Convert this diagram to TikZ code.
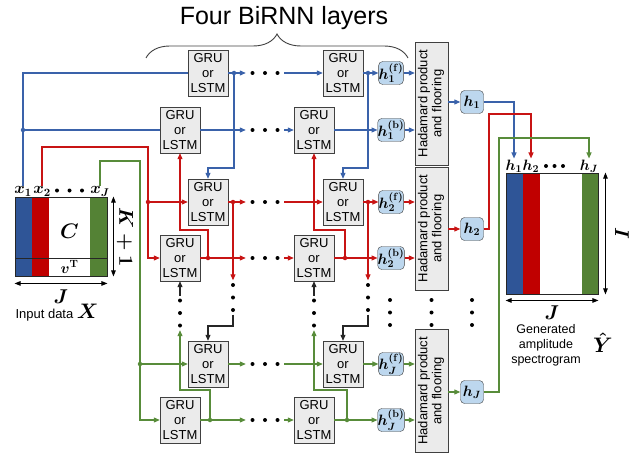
\RequirePackage{fix-cm}
\documentclass[tikz,border=0pt]{standalone}
\usepackage{amsmath}
\usepackage[no-math]{fontspec}
\setmainfont{Liberation Sans}
\usetikzlibrary{arrows.meta,decorations.pathreplacing}

\definecolor{matblue}{RGB}{47,85,151}
\definecolor{matred}{RGB}{192,0,0}
\definecolor{matgreen}{RGB}{84,130,53}
\definecolor{lineblue}{RGB}{58,98,170}
\definecolor{linered}{RGB}{200,20,20}
\definecolor{linegreen}{RGB}{88,140,58}
\definecolor{cellgray}{RGB}{235,235,235}
\definecolor{statefill}{RGB}{189,215,238}

\begin{document}
\begin{tikzpicture}
%BiRNN amplitude generator
	[
	 x=1pt,y=-1pt,
	 %Styles
	 gru/.style={rectangle,draw=black!75,fill=cellgray,minimum width=40pt,minimum height=46pt,inner sep=0pt,align=center,font=\fontsize{13}{15}\selectfont},
	 hstate/.style={rectangle,rounded corners=4pt,draw=black!75,fill=statefill,minimum width=23pt,minimum height=23pt,inner sep=0pt,font=\fontsize{15}{17}\selectfont},
	 hadamard/.style={rectangle,draw=black!75,fill=cellgray,minimum width=33pt,minimum height=123pt,inner sep=0pt,font=\fontsize{13}{14}\selectfont},
	 junc/.style={circle,inner sep=0pt,minimum size=4.5pt,fill=#1},
	 rowdots/.style={minimum width=38pt,minimum height=6pt,inner sep=0pt,
	   path picture={\fill[black] (path picture bounding box.center) ++(-#1,0) circle (2pt) ++(#1,0) circle (2pt) ++(#1,0) circle (2pt);}},
	 rowdots/.default=12.5pt,
	 coldots/.style={minimum width=6pt,minimum height=34pt,inner sep=0pt,
	   path picture={\fill[black] (path picture bounding box.center) ++(0,-#1) circle (2pt) ++(0,#1) circle (2pt) ++(0,#1) circle (2pt);}},
	 coldots/.default=12.5pt,
	 wire/.style={line width=1.1pt},
	 arr/.style={-{Triangle[length=6pt,width=5pt]}},
	 bluew/.style={wire,draw=lineblue},
	 redw/.style={wire,draw=linered},
	 greenw/.style={wire,draw=linegreen},
	 blackw/.style={wire,draw=black!85},
	 mlabel/.style={inner sep=1pt},
	 dimarr/.style={{Triangle[length=6pt,width=4.5pt]}-{Triangle[length=6pt,width=4.5pt]},line width=0.9pt},
	 matbox/.style={rectangle,draw=black!85,line width=0.9pt,inner sep=0pt}
	]
	\useasboundingbox (0,0) rectangle (636,457);

	%Title
	\node (title) at (284,18) {\fontsize{25}{30}\selectfont Four BiRNN layers};
	\draw[decorate,decoration={brace,amplitude=24pt},black!75,line width=0.9pt] (146,58) -- (408,58);

	%Input data
	\fill[matblue] (15,197) rectangle (32,276);
	\fill[matred] (32,197) rectangle (49,276);
	\fill[matgreen] (90,197) rectangle (107,276);
	\node (inmat) [matbox,minimum width=92pt,minimum height=79pt] at (61,236.5) {};
	\draw[black!85,line width=0.9pt] (15,258) -- (107,258);
	\node (cmat) at (69.5,231) {\fontsize{21}{24}\selectfont$\boldsymbol{C}$};
	\node (vrow) at (69.5,267) {\fontsize{15}{18}\selectfont$\boldsymbol{v^{\mathrm{T}}}$};
	\node (x1) [mlabel] at (23,191.5) {\fontsize{16}{18}\selectfont$\boldsymbol{x_1}$};
	\node (x2) [mlabel] at (42,191.5) {\fontsize{16}{18}\selectfont$\boldsymbol{x_2}$};
	\node (xdots) [rowdots,minimum width=30pt] at (69.5,190.5) {};
	\node (xJ) [mlabel] at (100,191.5) {\fontsize{16}{18}\selectfont$\boldsymbol{x_J}$};
	\draw[dimarr] ([xshift=6pt]inmat.north east) -- ([xshift=6pt]inmat.south east);
	\node (kdim) [rotate=-90] at (125,237) {\fontsize{20}{24}\selectfont$\boldsymbol{K+1}$};
	\draw[dimarr] ([yshift=-7pt]inmat.south west) -- ([yshift=-7pt]inmat.south east);
	\node (jin) at (61,297) {\fontsize{20}{24}\selectfont$\boldsymbol{J}$};
	\node (indata) at (57,313) {\fontsize{13}{15}\selectfont Input data \fontsize{21}{24}\selectfont$\boldsymbol{X}$};

	%RNN cells
	\node (gru1fa) [gru] at (208,73) {GRU\\or\\LSTM};
	\node (gru1fb) [gru] at (343,73) {GRU\\or\\LSTM};
	\node (gru1ba) [gru] at (180,130) {GRU\\or\\LSTM};
	\node (gru1bb) [gru] at (314,130) {GRU\\or\\LSTM};
	\node (gru2fa) [gru] at (208,202) {GRU\\or\\LSTM};
	\node (gru2fb) [gru] at (343,202) {GRU\\or\\LSTM};
	\node (gru2ba) [gru] at (180,258) {GRU\\or\\LSTM};
	\node (gru2bb) [gru] at (314,258) {GRU\\or\\LSTM};
	\node (gruJfa) [gru] at (208,364) {GRU\\or\\LSTM};
	\node (gruJfb) [gru] at (343,364) {GRU\\or\\LSTM};
	\node (gruJba) [gru] at (180,420) {GRU\\or\\LSTM};
	\node (gruJbb) [gru] at (314,420) {GRU\\or\\LSTM};

	%Ellipses between cells
	\node (el1f) [rowdots] at (265,73) {};
	\node (el1b) [rowdots] at (265,130) {};
	\node (el2f) [rowdots] at (265,202) {};
	\node (el2b) [rowdots] at (265,258) {};
	\node (elJf) [rowdots] at (265,364) {};
	\node (elJb) [rowdots] at (265,420) {};
	\node (vd1a) [coldots] at (233,297.5) {};
	\node (vd1b) [coldots] at (368,297.5) {};
	\node (vd2a) [coldots] at (180,313) {};
	\node (vd2b) [coldots] at (314,313) {};
	\node (sdots) [coldots] at (390,312.5) {};
	\node (hdots) [coldots] at (431.5,312.5) {};
	\node (odots) [coldots] at (472,312.5) {};

	%Hidden states
	\node (h1f) [hstate] at (391,73) {$\boldsymbol{h^{(\mathrm{f})}_1}$};
	\node (h1b) [hstate] at (391,130) {$\boldsymbol{h^{(\mathrm{b})}_1}$};
	\node (h2f) [hstate] at (391,202) {$\boldsymbol{h^{(\mathrm{f})}_2}$};
	\node (h2b) [hstate] at (391,258) {$\boldsymbol{h^{(\mathrm{b})}_2}$};
	\node (hJf) [hstate] at (391,364) {$\boldsymbol{h^{(\mathrm{f})}_J}$};
	\node (hJb) [hstate] at (391,420) {$\boldsymbol{h^{(\mathrm{b})}_J}$};

	%Hadamard product and flooring
	\node (hd1) [hadamard] at (431.5,103.5) {\rotatebox{90}{\begin{tabular}{@{}c@{}}Hadamard product\\and flooring\end{tabular}}};
	\node (hd2) [hadamard] at (431.5,228.5) {\rotatebox{90}{\begin{tabular}{@{}c@{}}Hadamard product\\and flooring\end{tabular}}};
	\node (hd3) [hadamard] at (431.5,391) {\rotatebox{90}{\begin{tabular}{@{}c@{}}Hadamard product\\and flooring\end{tabular}}};
	\node (ho1) [hstate] at (472,102) {$\boldsymbol{h_1}$};
	\node (ho2) [hstate] at (472,229) {$\boldsymbol{h_2}$};
	\node (hoJ) [hstate] at (472,392) {$\boldsymbol{h_J}$};

	%Output spectrogram
	\fill[matblue] (506,173) rectangle (523,294);
	\fill[matred] (523,173) rectangle (540,294);
	\fill[matgreen] (582,173) rectangle (598,294);
	\node (outmat) [matbox,minimum width=92pt,minimum height=121pt] at (552,233.5) {};
	\node (hl1) [mlabel] at (514,166) {\fontsize{15}{18}\selectfont$\boldsymbol{h_1}$};
	\node (hl2) [mlabel] at (531,166) {\fontsize{15}{18}\selectfont$\boldsymbol{h_2}$};
	\node (hldots) [rowdots=8.5pt,minimum width=22pt] at (554.5,166) {};
	\node (hlJ) [mlabel] at (589,166) {\fontsize{15}{18}\selectfont$\boldsymbol{h_J}$};
	\draw[dimarr] ([xshift=7pt]outmat.north east) -- ([xshift=7pt]outmat.south east);
	\node (idim) [rotate=-90] at (622,233.5) {\fontsize{20}{24}\selectfont$\boldsymbol{I}$};
	\draw[dimarr] ([yshift=-6pt]outmat.south west) -- ([yshift=-6pt]outmat.south east);
	\node (jout) at (552,313) {\fontsize{20}{24}\selectfont$\boldsymbol{J}$};
	\node (gentext) [align=center,inner sep=1pt,font=\fontsize{12.5}{15}\selectfont] at (546,345) {Generated\\amplitude\\spectrogram};
	\node (yhat) [inner sep=1pt] at (603,343) {\fontsize{21}{24}\selectfont$\boldsymbol{\hat{Y}}$};

	%Junctions
	\node (jb0) [junc=lineblue] at (23,130) {};
	\node (jb1) [junc=lineblue] at (234,73) {};
	\node (jb2) [junc=lineblue] at (368,73) {};
	\node (jr0) [junc=linered] at (148,202) {};
	\node (jr1) [junc=linered] at (233,202) {};
	\node (jr2) [junc=linered] at (208,258) {};
	\node (jr3) [junc=linered] at (368,202) {};
	\node (jr4) [junc=linered] at (345,258) {};
	\node (jg0) [junc=linegreen] at (140,364) {};
	\node (jg1) [junc=linegreen] at (210,420) {};
	\node (jg2) [junc=linegreen] at (347,420) {};

	%Edges: first layer
	\draw[bluew] (x1.north) |- (gru1fa.west);
	\draw[bluew] (jb0) -- (gru1ba.west);
	\draw[bluew] (gru1fa) -- (jb1);
	\draw[bluew,arr] (jb1) -- (el1f);
	\draw[bluew,arr] (el1f) -- (gru1fb);
	\draw[bluew] (gru1fb) -- (jb2);
	\draw[bluew,arr] (jb2) -- (h1f);
	\draw[bluew,arr] (jb1) -- (234,168) -| (gru2fa);
	\draw[bluew,arr] (jb2) -- (368,168) -| (gru2fb);
	\draw[bluew,arr] (gru1ba) -- (el1b);
	\draw[bluew,arr] (el1b) -- (gru1bb);
	\draw[bluew,arr] (gru1bb) -- (h1b);

	%Edges: second layer
	\draw[redw,arr] (x2.north) |- (148,147) |- (gru2ba.west);
	\draw[redw,arr] (jr0) -- (gru2fa);
	\draw[redw] (gru2fa) -- (jr1);
	\draw[redw,arr] (jr1) -- (el2f);
	\draw[redw,arr] (el2f) -- (gru2fb);
	\draw[redw,arr] (jr1) -- (vd1a);
	\draw[redw] (gru2fb) -- (jr3);
	\draw[redw,arr] (jr3) -- (h2f);
	\draw[redw,arr] (jr3) -- (vd1b);
	\draw[redw] (gru2ba) -- (jr2);
	\draw[redw,arr] (jr2) -- (el2b);
	\draw[redw,arr] (el2b) -- (gru2bb);
	\draw[redw,arr] (jr2) -- (208,230) -| (gru1ba);
	\draw[redw] (gru2bb) -- (jr4);
	\draw[redw,arr] (jr4) -- (h2b);
	\draw[redw,arr] (jr4) -- (345,230) -| (gru1bb);
	\draw[blackw,arr] (vd1a) -- (233,326) -| (gruJfa);
	\draw[blackw,arr] (vd1b) -- (368,326) -| (gruJfb);

	%Edges: last layer
	\draw[greenw,arr] (xJ.north) |- (140,161) |- (gruJba.west);
	\draw[greenw,arr] (jg0) -- (gruJfa);
	\draw[greenw,arr] (gruJfa) -- (elJf);
	\draw[greenw,arr] (elJf) -- (gruJfb);
	\draw[greenw,arr] (gruJfb) -- (hJf);
	\draw[greenw] (gruJba) -- (jg1);
	\draw[greenw,arr] (jg1) -- (elJb);
	\draw[greenw,arr] (elJb) -- (gruJbb);
	\draw[greenw,arr] (jg1) -- (210,390) -| (vd2a);
	\draw[greenw] (gruJbb) -- (jg2);
	\draw[greenw,arr] (jg2) -- (hJb);
	\draw[greenw,arr] (jg2) -- (347,390) -| (vd2b);
	\draw[blackw,arr] (vd2a) -- (gru2ba);
	\draw[blackw,arr] (vd2b) -- (gru2bb);

	%Edges: Hadamard and output
	\draw[bluew,arr] (h1f) -- (h1f -| hd1.west);
	\draw[bluew,arr] (h1b) -- (h1b -| hd1.west);
	\draw[redw,arr] (h2f) -- (h2f -| hd2.west);
	\draw[redw,arr] (h2b) -- (h2b -| hd2.west);
	\draw[greenw,arr] (hJf) -- (hJf -| hd3.west);
	\draw[greenw,arr] (hJb) -- (hJb -| hd3.west);
	\draw[bluew,arr] (hd1.east |- ho1) -- (ho1);
	\draw[redw,arr] (hd2.east |- ho2) -- (ho2);
	\draw[greenw,arr] (hd3.east |- hoJ) -- (hoJ);
	\draw[bluew,arr] (ho1) -| (hl1);
	\draw[redw,arr] (ho2) -| (489,114) -| (hl2);
	\draw[greenw,arr] (hoJ) -| (499,138) -| (hlJ);
\end{tikzpicture}
\end{document}
